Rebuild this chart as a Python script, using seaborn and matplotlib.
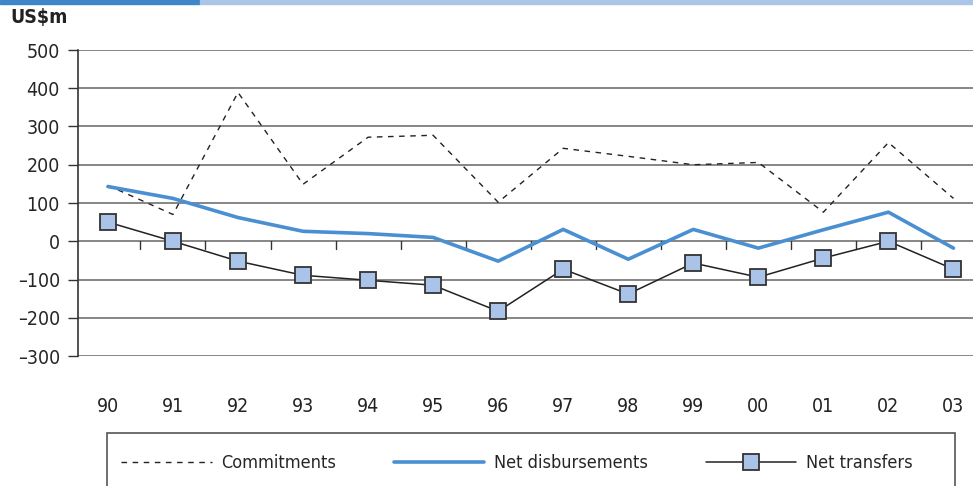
import matplotlib
matplotlib.use('Agg')
import matplotlib.pyplot as plt
import seaborn as sns
import pandas as pd
from matplotlib.lines import Line2D
from matplotlib.patches import Rectangle

# --------------
# Data
# --------------
years = ['90', '91', '92', '93', '94', '95', '96', '97', '98', '99', '00', '01', '02', '03']
commitments = [146, 70, 389, 149, 272, 277, 102, 243, 222, 200, 206, 76, 258, 112]
net_disbursements = [143, 112, 62, 26, 20, 10, -52, 31, -47, 31, -18, 30, 76, -18]
net_transfers = [50, 0, -52, -89, -102, -115, -183, -73, -138, -57, -94, -44, 0, -73]

df = pd.DataFrame({'pos': range(len(years)), 'year': years,
                   'Commitments': commitments,
                   'Net disbursements': net_disbursements,
                   'Net transfers': net_transfers})

# --------------
# Style
# --------------
sns.set_style('white')
plt.rcParams['font.family'] = ['DejaVu Sans']
plt.rcParams['font.stretch'] = 'condensed'
col_blue = '#4a8fd2'
col_face = '#a9c4e8'
col_dark = '#222222'
fs = 14

fig = plt.figure(figsize=(9.73, 4.86), dpi=100)
ax = fig.add_axes([78 / 973, 1 - 356 / 486, 1 - 78 / 973, 306 / 486])

# gridlines
for v in range(-300, 501, 100):
    ax.axhline(v, color='#666666', lw=1.1, zorder=1)

sns.lineplot(data=df, x='pos', y='Commitments', ax=ax, color=col_dark,
             lw=1, linestyle=(0, (4, 4)), zorder=3)
sns.lineplot(data=df, x='pos', y='Net disbursements', ax=ax, color=col_blue,
             lw=2.6, zorder=4)
sns.lineplot(data=df, x='pos', y='Net transfers', ax=ax, color=col_dark,
             lw=1.1, marker='s', markersize=12, markerfacecolor=col_face,
             markeredgecolor='#333333', markeredgewidth=1.3, zorder=5)

ax.set_xlim(-0.46, 13.3)
ax.set_ylim(-300, 500)
ax.set_yticks(range(-300, 501, 100))
ax.set_yticklabels([str(v).replace('-', '\u2013') for v in range(-300, 501, 100)])
ax.tick_params(axis='y', left=True, length=7, width=1, color='#333333',
               labelsize=fs, pad=6)
ax.set_xticks([])
ax.set_xlabel('')
ax.set_ylabel('')
for s in ['top', 'right', 'bottom']:
    ax.spines[s].set_visible(False)
ax.spines['left'].set_color('#333333')
ax.spines['left'].set_linewidth(1.2)

# tick marks on the zero line between categories
for i in range(len(years) - 1):
    ax.plot([i + 0.5, i + 0.5], [0, -20], color='#333333', lw=1, zorder=2)

# category labels well below the plot
trans = ax.get_xaxis_transform()
for i, yr in enumerate(years):
    ax.text(i, -0.165, yr, transform=trans, ha='center', va='center',
            fontsize=fs, color='#222222')

# unit label
fig.text(10 / 973, 1 - 18 / 486, 'US$m', fontsize=fs, fontweight='bold',
         va='center', ha='left', color='#222222')

# top bar
fig.patches.append(Rectangle((0, 1 - 4 / 486), 200 / 973, 4 / 486,
                             transform=fig.transFigure, color='#3f86c9'))
fig.patches.append(Rectangle((200 / 973, 1 - 4 / 486), 773 / 973, 4 / 486,
                             transform=fig.transFigure, color='#a9c6e8'))

# legend box
fig.patches.append(Rectangle((107 / 973, -0.05), 848 / 973, 1 - 433 / 486 + 0.05,
                             transform=fig.transFigure, fill=False,
                             edgecolor='#555555', lw=1.2))
handles = [Line2D([], [], color=col_dark, lw=1, linestyle=(0, (4, 4))),
           Line2D([], [], color=col_blue, lw=2.6),
           Line2D([], [], color=col_dark, lw=1.1, marker='s', markersize=12,
                  markerfacecolor=col_face, markeredgecolor='#333333',
                  markeredgewidth=1.3)]
fig.legend(handles, ['Commitments', 'Net disbursements', 'Net transfers'],
           loc='center', bbox_to_anchor=(517 / 973, 1 - 463 / 486), ncol=3,
           frameon=False, fontsize=13, handlelength=5.0, columnspacing=3.2,
           handletextpad=0.55)

fig.savefig('out.png', dpi=100)
plt.close()
